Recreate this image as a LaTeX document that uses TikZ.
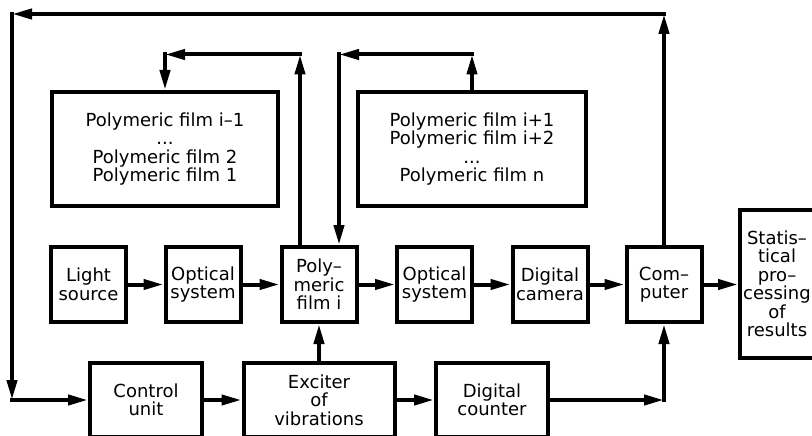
\documentclass[tikz,border=0pt]{standalone}
\usepackage{fontspec}
\setmainfont{DejaVu Sans}
\usetikzlibrary{arrows.meta}

\begin{document}
\begin{tikzpicture}[x=1pt, y=-1pt,
  box/.style = {draw, line width=4pt, align=center, inner sep=0pt,
    font=\fontsize{18}{18.5}\selectfont},
  small/.style = {box, minimum width=75pt, minimum height=75pt},
  lower/.style = {box, minimum width=112pt, minimum height=74pt},
  conn/.style = {line width=4pt, line cap=rect, -{Triangle[length=20pt, width=10pt]}}]
%\draw[help lines, color=gray!30] (0,0) grid[step=50pt] (812,436);
\useasboundingbox (0,0) rectangle (812,436);
\clip (0,0) rectangle (812,436);

% stacks of films
\node[box, minimum width = 226pt, minimum height = 114pt] (prev) at (165,149)
  {Polymeric film i\textendash1\\...\\Polymeric film 2\\Polymeric film 1};
\node[box, minimum width = 228pt, minimum height = 114pt] (next) at (472,149)
  {Polymeric film i+1\\Polymeric film i+2\\...\\Polymeric film n};

% optical chain
\node[small] (light) at (88.5,284.5) {Light\\source};
\node[small] (optA) at (203,284.5) {Optical\\system};
\node[small] (film) at (319,284.5) {Poly\textendash\\meric\\film i};
\node[small] (optB) at (434.5,284.5) {Optical\\system};
\node[small] (camera) at (550,284.5) {Digital\\camera};
\node[small] (computer) at (664,284.5) {Com\textendash\\puter};
\node[box, minimum width = 74pt, minimum height = 148pt] (stat) at (777,284)
  {Statis\textendash\\tical\\pro\textendash\\cessing\\of\\results};

% lower row
\node[lower] (control) at (146,400) {Control\\unit};
\node[lower, minimum width = 151pt] (exciter) at (319,400) {Exciter\\of\\vibrations};
\node[lower] (counter) at (492,400) {Digital\\counter};

\coordinate (tr) at (664,14);
\coordinate (tl) at (12,14);
\coordinate (bl) at (12,400);
\coordinate (br) at (664,400);
\coordinate (fa) at (300,54.5);
\coordinate (fb) at (165,54.5);
\coordinate (na) at (472,54.5);
\coordinate (nb) at (339,54.5);

\draw[conn] (light) -- (optA);
\draw[conn] (optA) -- (film);
\draw[conn] (film) -- (optB);
\draw[conn] (optB) -- (camera);
\draw[conn] (camera) -- (computer);
\draw[conn] (computer) -- (stat.west |- computer);

\draw[conn] (control) -- (exciter);
\draw[conn] (exciter) -- (counter);
\draw[conn] (counter) -- (br);
\draw[conn] (br) -- (computer);
\draw[conn] (exciter) -- (film);

% outer feedback loop
\draw[conn] (computer) -- (tr);
\draw[conn] (tr) -- (tl);
\draw[conn] (tl) -- (bl);
\draw[conn] (bl) -- (control);

% film exchange loops
\draw[conn] (film.north -| fa) -- (fa);
\draw[conn] (fa) -- (fb);
\draw[conn] (fb) -- (prev);
\draw[conn] (next.north -| na) -- (na);
\draw[conn] (na) -- (nb);
\draw[conn] (nb) -- (film.north -| nb);

\end{tikzpicture}
\end{document}
